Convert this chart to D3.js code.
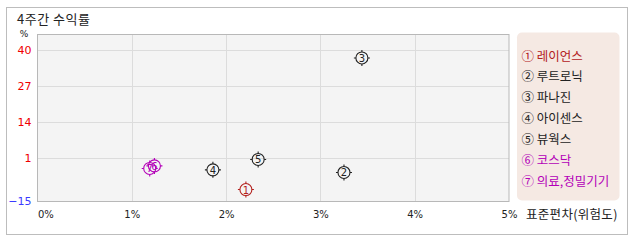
<!DOCTYPE html>
<html>
<head>
<meta charset="utf-8">
<script src="https://cdn.jsdelivr.net/npm/d3@7"></script>
<style>
  body { margin: 0; background: #fff; }
  svg text { font-family: "Noto Sans CJK KR", "Noto Sans", sans-serif; }
</style>
</head>
<body>
<div id="chart"></div>
<script>
var names = ['레이언스', '루트로닉', '파나진', '아이센스', '뷰웍스', '코스닥', '의료,정밀기기'];
var marks = ['①', '②', '③', '④', '⑤', '⑥', '⑦'];
var risk = [2.21, 3.25, 3.44, 1.86, 2.34, 1.24, 1.19];   // 표준편차 %
var ret = [-10.2, -4.05, 37.2, -3.1, 0.64, -1.67, -2.6]; // 4주간 수익률 %
var colors = ['#b3201d', '#222', '#222', '#222', '#222', '#b300b8', '#b300b8'];
var yTicks = [40, 27, 14, 1, -15];
var xTicks = [0, 1, 2, 3, 4, 5];

var W = 638, H = 242;
var plot = {left: 37.5, top: 34.5, right: 509, bottom: 201.5};

var svg = d3.select('#chart').append('svg')
    .attr('width', W)
    .attr('height', H);

// outer frame
svg.append('rect')
  .attr('x', 6.5).attr('y', 7.5)
  .attr('width', 621).attr('height', 227)
  .attr('fill', '#fff')
  .attr('stroke', '#bdbdbd');

svg.append('text')
  .attr('x', 17).attr('y', 24)
  .attr('font-size', 13)
  .attr('letter-spacing', 0.5)
  .attr('fill', '#222')
  .text('4주간 수익률');

var x = d3.scaleLinear().domain([0, 5]).range([plot.left, plot.right]);
var y = d3.scaleLinear().domain([-14.5, 45.65]).range([plot.bottom, plot.top]);

// plot background
svg.append('rect')
  .attr('x', plot.left).attr('y', plot.top)
  .attr('width', plot.right - plot.left)
  .attr('height', plot.bottom - plot.top)
  .attr('fill', '#f4f4f4');

// grid
svg.append('g').selectAll('line')
  .data(yTicks.filter(function (d) { return d > -15; }))
  .join('line')
  .attr('x1', plot.left).attr('x2', plot.right)
  .attr('y1', function (d) { return Math.round(y(d)) + 0.5; })
  .attr('y2', function (d) { return Math.round(y(d)) + 0.5; })
  .attr('stroke', '#dcdcdc');

svg.append('g').selectAll('line')
  .data(xTicks.slice(1, -1))
  .join('line')
  .attr('y1', plot.top).attr('y2', plot.bottom)
  .attr('x1', function (d) { return Math.round(x(d)) + 0.5; })
  .attr('x2', function (d) { return Math.round(x(d)) + 0.5; })
  .attr('stroke', '#dcdcdc');

svg.append('rect')
  .attr('x', plot.left).attr('y', plot.top)
  .attr('width', plot.right - plot.left)
  .attr('height', plot.bottom - plot.top)
  .attr('fill', 'none')
  .attr('stroke', '#b8b8b8');

// Y axis labels
var yAxis = d3.axisLeft(y).tickValues(yTicks).tickSize(0).tickPadding(6);
var gy = svg.append('g')
    .attr('transform', 'translate(' + plot.left + ',0)')
    .call(yAxis);
gy.select('.domain').remove();
gy.selectAll('text')
  .attr('font-size', 11)
  .style('font-family', '"DejaVu Sans", sans-serif')
  .attr('fill', function (d) { return d < 0 ? '#3a3aff' : '#f00000'; })
  .attr('y', function (d) { return d === -15 ? -1.5 : 0; });

svg.append('text')
  .attr('x', 24).attr('y', 37)
  .attr('text-anchor', 'middle')
  .attr('font-size', 9)
  .style('font-family', '"DejaVu Sans", sans-serif')
  .attr('fill', '#222')
  .text('%');

// X axis labels
var xAxis = d3.axisBottom(x).tickValues(xTicks).tickSize(0).tickPadding(9)
    .tickFormat(function (d) { return d + '%'; });
var gx = svg.append('g')
    .attr('transform', 'translate(0,' + plot.bottom + ')')
    .call(xAxis);
gx.select('.domain').remove();
gx.selectAll('text')
  .attr('font-size', 10)
  .style('font-family', '"DejaVu Sans", sans-serif')
  .attr('fill', '#222')
  .attr('text-anchor', function (d) { return d === 0 ? 'start' : 'middle'; });

svg.append('text')
  .attr('x', 526).attr('y', 219)
  .attr('font-size', 12.5)
  .attr('letter-spacing', 0.3)
  .attr('fill', '#222')
  .text('표준편차(위험도)');

// points
var pts = svg.append('g').selectAll('g')
    .data(names.map(function (n, i) { return i; }))
    .join('g')
    .attr('transform', function (i) {
      return 'translate(' + x(risk[i]) + ',' + y(ret[i]) + ')';
    });

pts.append('circle')
  .attr('r', 6)
  .attr('fill', 'none')
  .attr('stroke', function (i) { return colors[i]; })
  .attr('stroke-width', 1.1);

pts.append('path')
  .attr('d', 'M0,-8V-6M0,6V8M-8,0H-6M6,0H8')
  .attr('stroke', function (i) { return colors[i]; })
  .attr('stroke-width', 1.1);

pts.append('text')
  .attr('text-anchor', 'middle')
  .attr('y', 4)
  .attr('font-size', 10)
  .style('font-family', '"DejaVu Sans", sans-serif')
  .attr('fill', function (i) { return colors[i]; })
  .text(function (i) { return i + 1; });

// legend
svg.append('rect')
  .attr('x', 517).attr('y', 32.5)
  .attr('width', 102.5).attr('height', 168)
  .attr('rx', 5)
  .attr('fill', '#f5e9e3');

svg.append('g').selectAll('text')
  .data(names.map(function (n, i) { return i; }))
  .join('text')
  .attr('x', 521.5)
  .attr('y', function (i) { return 60.5 + i * 20.9; })
  .attr('font-size', 12.5)
  .attr('fill', function (i) { return colors[i]; })
  .text(function (i) { return marks[i] + ' ' + names[i]; });
</script>
</body>
</html>
